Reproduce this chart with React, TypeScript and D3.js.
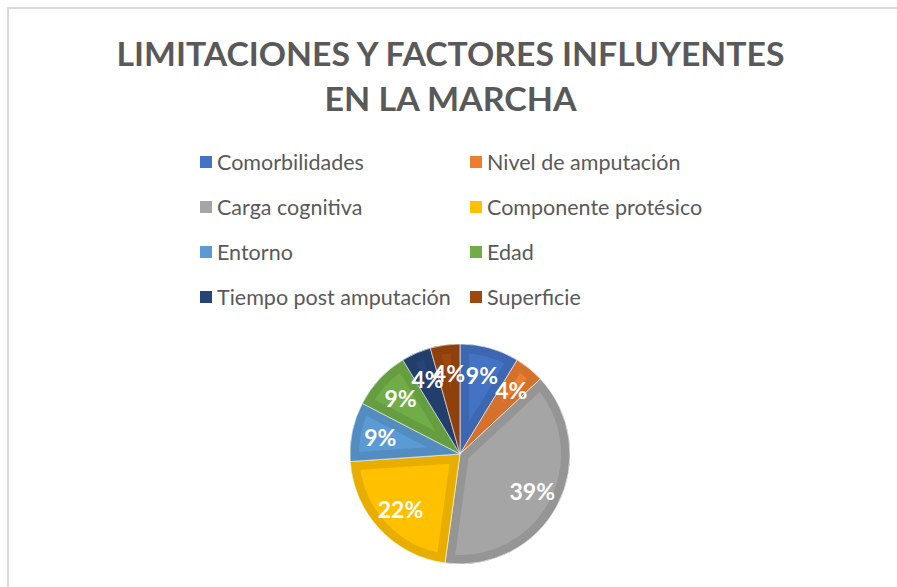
import React from "react";
import * as d3 from "d3";

const titleLines = ["LIMITACIONES Y FACTORES INFLUYENTES", "EN LA MARCHA"];
const categories = [
  "Comorbilidades",
  "Nivel de amputación",
  "Carga cognitiva",
  "Componente protésico",
  "Entorno",
  "Edad",
  "Tiempo post amputación",
  "Superficie",
];
const counts = [2, 1, 9, 5, 2, 2, 1, 1];
const colors = ["#4472C4", "#ED7D31", "#A5A5A5", "#FFC000", "#5B9BD5", "#70AD47", "#264478", "#9E480E"];

const W = 897;
const H = 587;

export default function App() {
  const cx = 460;
  const cy = 454;
  const r = 110;
  const total = d3.sum(counts);
  const pie = d3.pie<number>().sort(null).value((d) => d);
  const arcs = pie(counts);
  const arc = d3.arc<d3.PieArcDatum<number>>().innerRadius(0).outerRadius(r);
  const labelArc = d3.arc<d3.PieArcDatum<number>>().innerRadius(r * 0.74).outerRadius(r * 0.74);
  const fmt = d3.format(".0%");

  const legendX = [200, 470];
  const legendY0 = 162;
  const legendDy = 45;

  return (
    <svg width={W} height={H} style={{ position: "absolute", left: 0, top: 0 }}>
      <rect x={0} y={0} width={W} height={H} fill="#fff" />
      <path d={`M8,${H} L8,8 L${W},8`} fill="none" stroke="#d9d9d9" strokeWidth={2} />
      <g fontFamily="Lato, 'Open Sans', sans-serif" fontWeight="bold" fill="#595959" fontSize={32}>
        <text x={W / 2 + 2} y={66} textAnchor="middle" textLength={668} lengthAdjust="spacingAndGlyphs">
          {titleLines[0]}
        </text>
        <text x={W / 2 + 2} y={111} textAnchor="middle" textLength={252} lengthAdjust="spacingAndGlyphs">
          {titleLines[1]}
        </text>
      </g>
      <g fontFamily="Lato, 'Open Sans', sans-serif" fontSize={21.5} fill="#595959">
        {categories.map((c, i) => {
          const col = i % 2;
          const row = Math.floor(i / 2);
          const x = legendX[col];
          const y = legendY0 + row * legendDy;
          return (
            <g key={c}>
              <rect x={x} y={y - 6} width={12} height={12} fill={colors[i]} />
              <text x={x + 17} y={y + 7.5}>
                {c}
              </text>
            </g>
          );
        })}
      </g>
      <defs>
        {arcs.map((a, i) => (
          <clipPath id={`clip${i}`} key={i}>
            <path d={arc(a) || ""} />
          </clipPath>
        ))}
      </defs>
      <g transform={`translate(${cx},${cy})`}>
        {arcs.map((a, i) => {
          const d = arc(a) || "";
          const dark = d3.color(colors[i])!.darker(0.28).formatHex();
          return (
            <g key={i}>
              <path d={d} fill={colors[i]} />
              <path d={d} fill="none" stroke={dark} strokeWidth={18} clipPath={`url(#clip${i})`} strokeLinejoin="round" />
              <path d={d} fill="none" stroke="#ffffff" strokeOpacity={0.6} strokeWidth={1} />
            </g>
          );
        })}
        {arcs.map((a, i) => {
          const [lx, ly] = labelArc.centroid(a);
          return (
            <text
              key={i}
              x={lx}
              y={ly}
              dy="0.36em"
              textAnchor="middle"
              fill="#fff"
              fontFamily="Lato, 'Open Sans', sans-serif"
              fontWeight="bold"
              fontSize={23}
            >
              {fmt(a.data / total)}
            </text>
          );
        })}
      </g>
    </svg>
  );
}
